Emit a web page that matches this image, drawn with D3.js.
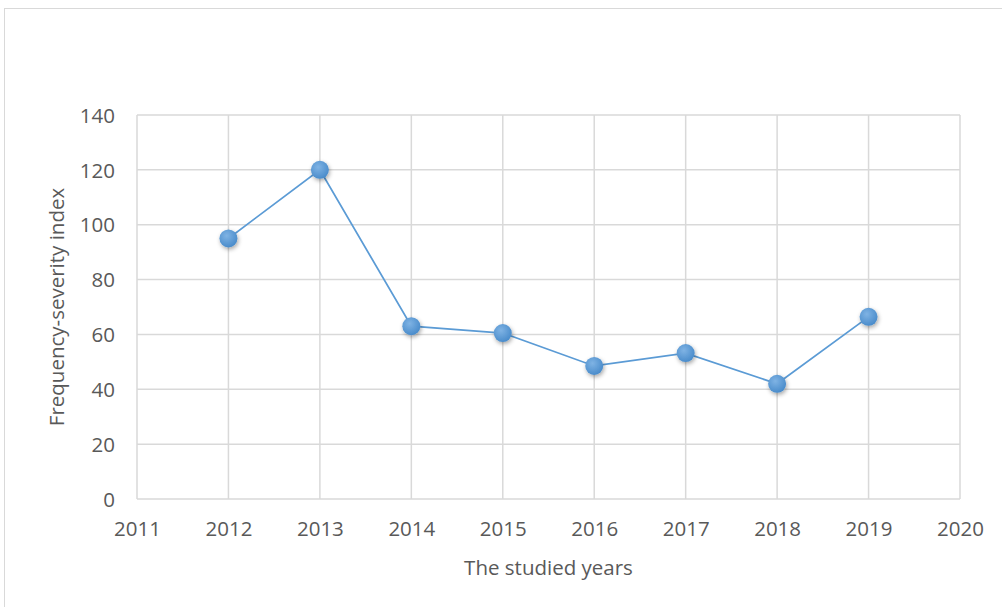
<!DOCTYPE html>
<html>
<head>
<meta charset="utf-8">
<script src="https://cdn.jsdelivr.net/npm/d3@7"></script>
<style>
  body { margin: 0; background: #fff; }
  text { font-family: "Open Sans", "Noto Sans", sans-serif; fill: #595959; }
</style>
</head>
<body>
<div id="chart"></div>
<script>
// chart values
var years = [2012, 2013, 2014, 2015, 2016, 2017, 2018, 2019];
var fsIndex = [95, 120, 63, 60.5, 48.5, 53.2, 42, 66.4];
var xTicks = [2011, 2012, 2013, 2014, 2015, 2016, 2017, 2018, 2019, 2020];
var yTicks = [0, 20, 40, 60, 80, 100, 120, 140];

var width = 1002, height = 607;
var margin = { top: 115, right: 42, bottom: 108, left: 137 };
var fontSize = "20.5px";

var svg = d3.select("#chart")
  .append("svg")
  .attr("width", width)
  .attr("height", height);

// marker shading + shadow
var defs = svg.append("defs");
var grad = defs.append("radialGradient")
  .attr("id", "dotFill")
  .attr("cx", "40%").attr("cy", "35%").attr("r", "65%");
grad.append("stop").attr("offset", "0%").attr("stop-color", "#7fb3e4");
grad.append("stop").attr("offset", "100%").attr("stop-color", "#4a8ccb");
var shadow = defs.append("filter").attr("id", "shadow")
  .attr("x", "-50%").attr("y", "-50%").attr("width", "200%").attr("height", "200%");
shadow.append("feDropShadow")
  .attr("dx", 1).attr("dy", 2).attr("stdDeviation", 2)
  .attr("flood-color", "#000").attr("flood-opacity", 0.35);

// outer frame
svg.append("rect")
  .attr("x", 4.5).attr("y", 8.5)
  .attr("width", 1010).attr("height", 620)
  .attr("fill", "none")
  .attr("stroke", "#d9d9d9")
  .attr("stroke-width", 1);

var x = d3.scaleLinear()
  .domain([2011, 2020])
  .range([margin.left, width - margin.right]);
var y = d3.scaleLinear()
  .domain([0, 140])
  .range([height - margin.bottom, margin.top]);

// gridlines
svg.append("g")
  .selectAll("line")
  .data(yTicks)
  .enter()
  .append("line")
  .attr("x1", x(2011)).attr("x2", x(2020))
  .attr("y1", function (d) { return y(d); })
  .attr("y2", function (d) { return y(d); })
  .attr("stroke", "#d9d9d9")
  .attr("stroke-width", 1.5);

svg.append("g")
  .selectAll("line")
  .data(xTicks)
  .enter()
  .append("line")
  .attr("x1", function (d) { return x(d); })
  .attr("x2", function (d) { return x(d); })
  .attr("y1", y(0)).attr("y2", y(140))
  .attr("stroke", "#d9d9d9")
  .attr("stroke-width", 1.5);

// axes - use d3 axis for labels only
var yAxis = svg.append("g")
  .attr("transform", "translate(" + (margin.left - 22) + ",0)")
  .call(d3.axisLeft(y).tickValues(yTicks).tickSize(0).tickPadding(0));
yAxis.select(".domain").remove();
yAxis.selectAll("text")
  .style("font-size", fontSize)
  .attr("fill", "#595959")
  .attr("dy", "0.35em");

var xAxis = svg.append("g")
  .attr("transform", "translate(0," + (y(0) + 22) + ")")
  .call(d3.axisBottom(x).tickValues(xTicks).tickFormat(d3.format("d")).tickSize(0).tickPadding(0));
xAxis.select(".domain").remove();
xAxis.selectAll("text")
  .style("font-size", fontSize)
  .attr("fill", "#595959");

// axis titles
svg.append("text")
  .attr("x", (x(2011) + x(2020)) / 2)
  .attr("y", 575)
  .attr("text-anchor", "middle")
  .style("font-size", fontSize)
  .text("The studied years");

svg.append("text")
  .attr("transform", "translate(64," + ((y(0) + y(140)) / 2) + ") rotate(-90)")
  .attr("text-anchor", "middle")
  .style("font-size", fontSize)
  .text("Frequency-severity index");

// series
var line = d3.line()
  .x(function (d, i) { return x(years[i]); })
  .y(function (d) { return y(d); });

svg.append("path")
  .datum(fsIndex)
  .attr("d", line)
  .attr("fill", "none")
  .attr("stroke", "#5b9bd5")
  .attr("stroke-width", 1.75);

svg.append("g")
  .selectAll("circle")
  .data(fsIndex)
  .enter()
  .append("circle")
  .attr("cx", function (d, i) { return x(years[i]); })
  .attr("cy", function (d) { return y(d); })
  .attr("r", 9)
  .attr("fill", "url(#dotFill)")
  .attr("filter", "url(#shadow)");
</script>
</body>
</html>
